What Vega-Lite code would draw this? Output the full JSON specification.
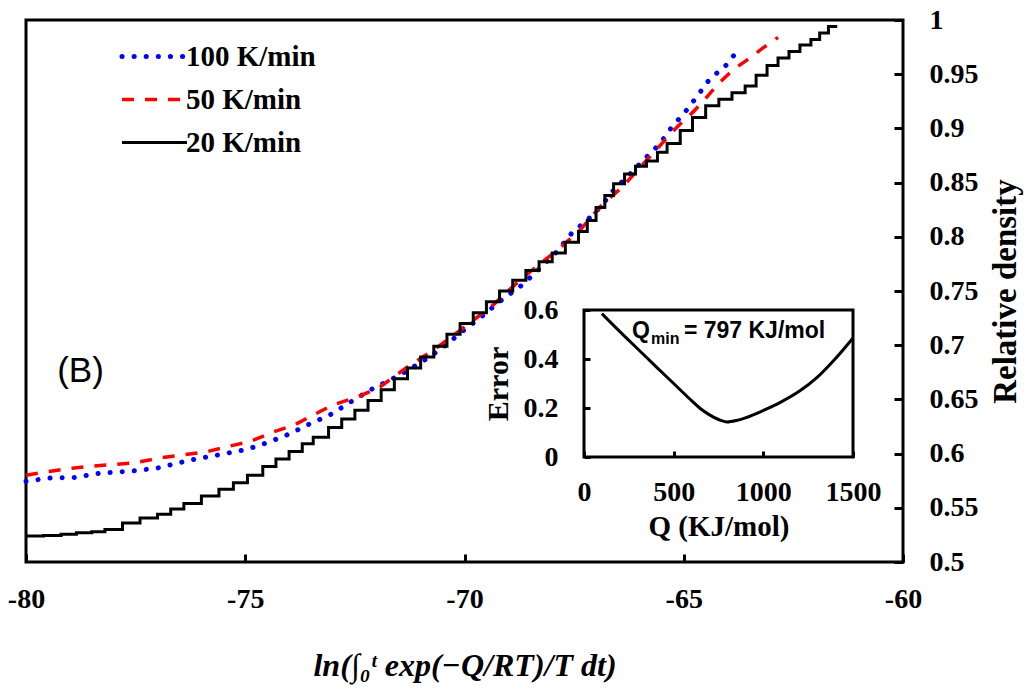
{
  "$schema": "https://vega.github.io/schema/vega-lite/v6.json",
  "width": 877,
  "height": 542,
  "autosize": {"type": "none"},
  "padding": {"left": 26, "top": 20, "right": 125, "bottom": 137},
  "background": "white",
  "config": {
    "view": {"stroke": "black", "strokeWidth": 3},
    "axis": {"grid": false, "labelFont": "Liberation Serif", "labelFontWeight": "bold", "labelColor": "black", "titleFont": "Liberation Serif", "titleFontWeight": "bold", "titleColor": "black", "tickColor": "black", "labelFlush": false, "labelOverlap": false}
  },
  "datasets": {
    "curves": [
      {"s": "100 K/min", "x": -80, "y": 0.5745}, {"s": "100 K/min", "x": -79.45, "y": 0.5775}, {"s": "100 K/min", "x": -78.9, "y": 0.578}, {"s": "100 K/min", "x": -78.3, "y": 0.582}, {"s": "100 K/min", "x": -77.55, "y": 0.584}, {"s": "100 K/min", "x": -77.0, "y": 0.5867}, {"s": "100 K/min", "x": -76.26, "y": 0.594}, {"s": "100 K/min", "x": -75.5, "y": 0.5996}, {"s": "100 K/min", "x": -74.96, "y": 0.604}, {"s": "100 K/min", "x": -74.5, "y": 0.61}, {"s": "100 K/min", "x": -74.0, "y": 0.618}, {"s": "100 K/min", "x": -73.5, "y": 0.628}, {"s": "100 K/min", "x": -73.07, "y": 0.6356}, {"s": "100 K/min", "x": -72.6, "y": 0.6476}, {"s": "100 K/min", "x": -72.15, "y": 0.6587}, {"s": "100 K/min", "x": -71.47, "y": 0.6725}, {"s": "100 K/min", "x": -70.8, "y": 0.689}, {"s": "100 K/min", "x": -70.4, "y": 0.701}, {"s": "100 K/min", "x": -69.95, "y": 0.716}, {"s": "100 K/min", "x": -69.65, "y": 0.725}, {"s": "100 K/min", "x": -69.24, "y": 0.739}, {"s": "100 K/min", "x": -68.67, "y": 0.756}, {"s": "100 K/min", "x": -68.28, "y": 0.771}, {"s": "100 K/min", "x": -67.9, "y": 0.786}, {"s": "100 K/min", "x": -67.55, "y": 0.8035}, {"s": "100 K/min", "x": -67.2, "y": 0.8155}, {"s": "100 K/min", "x": -66.9, "y": 0.8275}, {"s": "100 K/min", "x": -66.6, "y": 0.843}, {"s": "100 K/min", "x": -66.2, "y": 0.859}, {"s": "100 K/min", "x": -65.84, "y": 0.874}, {"s": "100 K/min", "x": -65.54, "y": 0.886}, {"s": "100 K/min", "x": -65.27, "y": 0.9014}, {"s": "100 K/min", "x": -64.97, "y": 0.915}, {"s": "100 K/min", "x": -64.67, "y": 0.931}, {"s": "100 K/min", "x": -64.4, "y": 0.946}, {"s": "100 K/min", "x": -64.06, "y": 0.957}, {"s": "100 K/min", "x": -63.9, "y": 0.965}, {"s": "100 K/min", "x": -63.76, "y": 0.973},
      {"s": "50 K/min", "x": -80, "y": 0.58}, {"s": "50 K/min", "x": -79.4, "y": 0.584}, {"s": "50 K/min", "x": -78.85, "y": 0.587}, {"s": "50 K/min", "x": -78.15, "y": 0.5895}, {"s": "50 K/min", "x": -77.55, "y": 0.5913}, {"s": "50 K/min", "x": -76.94, "y": 0.596}, {"s": "50 K/min", "x": -76.4, "y": 0.599}, {"s": "50 K/min", "x": -75.9, "y": 0.6015}, {"s": "50 K/min", "x": -75.35, "y": 0.607}, {"s": "50 K/min", "x": -74.9, "y": 0.611}, {"s": "50 K/min", "x": -74.36, "y": 0.62}, {"s": "50 K/min", "x": -73.9, "y": 0.626}, {"s": "50 K/min", "x": -73.45, "y": 0.6356}, {"s": "50 K/min", "x": -73.0, "y": 0.645}, {"s": "50 K/min", "x": -72.45, "y": 0.652}, {"s": "50 K/min", "x": -71.93, "y": 0.6614}, {"s": "50 K/min", "x": -71.3, "y": 0.68}, {"s": "50 K/min", "x": -70.7, "y": 0.6956}, {"s": "50 K/min", "x": -69.94, "y": 0.7186}, {"s": "50 K/min", "x": -69.35, "y": 0.737}, {"s": "50 K/min", "x": -68.9, "y": 0.754}, {"s": "50 K/min", "x": -68.35, "y": 0.773}, {"s": "50 K/min", "x": -67.9, "y": 0.787}, {"s": "50 K/min", "x": -67.37, "y": 0.806}, {"s": "50 K/min", "x": -66.9, "y": 0.828}, {"s": "50 K/min", "x": -66.4, "y": 0.846}, {"s": "50 K/min", "x": -65.77, "y": 0.874}, {"s": "50 K/min", "x": -65.15, "y": 0.9014}, {"s": "50 K/min", "x": -64.79, "y": 0.915}, {"s": "50 K/min", "x": -64.47, "y": 0.929}, {"s": "50 K/min", "x": -64.24, "y": 0.94}, {"s": "50 K/min", "x": -63.88, "y": 0.954}, {"s": "50 K/min", "x": -63.56, "y": 0.963}, {"s": "50 K/min", "x": -63.2, "y": 0.974}, {"s": "50 K/min", "x": -62.85, "y": 0.984},
      {"s": "20 K/min", "x": -80, "y": 0.524}, {"s": "20 K/min", "x": -79.6, "y": 0.5245}, {"s": "20 K/min", "x": -79.2, "y": 0.5255}, {"s": "20 K/min", "x": -78.85, "y": 0.527}, {"s": "20 K/min", "x": -78.5, "y": 0.528}, {"s": "20 K/min", "x": -78.2, "y": 0.53}, {"s": "20 K/min", "x": -77.8, "y": 0.536}, {"s": "20 K/min", "x": -77.4, "y": 0.5405}, {"s": "20 K/min", "x": -77.0, "y": 0.544}, {"s": "20 K/min", "x": -76.7, "y": 0.549}, {"s": "20 K/min", "x": -76.4, "y": 0.554}, {"s": "20 K/min", "x": -76.0, "y": 0.561}, {"s": "20 K/min", "x": -75.6, "y": 0.567}, {"s": "20 K/min", "x": -75.27, "y": 0.573}, {"s": "20 K/min", "x": -74.95, "y": 0.58}, {"s": "20 K/min", "x": -74.6, "y": 0.588}, {"s": "20 K/min", "x": -74.3, "y": 0.595}, {"s": "20 K/min", "x": -74.0, "y": 0.602}, {"s": "20 K/min", "x": -73.7, "y": 0.609}, {"s": "20 K/min", "x": -73.45, "y": 0.615}, {"s": "20 K/min", "x": -73.1, "y": 0.624}, {"s": "20 K/min", "x": -72.8, "y": 0.632}, {"s": "20 K/min", "x": -72.5, "y": 0.64}, {"s": "20 K/min", "x": -72.2, "y": 0.649}, {"s": "20 K/min", "x": -71.9, "y": 0.659}, {"s": "20 K/min", "x": -71.6, "y": 0.669}, {"s": "20 K/min", "x": -71.3, "y": 0.679}, {"s": "20 K/min", "x": -71.0, "y": 0.689}, {"s": "20 K/min", "x": -70.7, "y": 0.699}, {"s": "20 K/min", "x": -70.4, "y": 0.71}, {"s": "20 K/min", "x": -70.1, "y": 0.72}, {"s": "20 K/min", "x": -69.8, "y": 0.73}, {"s": "20 K/min", "x": -69.5, "y": 0.74}, {"s": "20 K/min", "x": -69.2, "y": 0.75}, {"s": "20 K/min", "x": -68.9, "y": 0.76}, {"s": "20 K/min", "x": -68.6, "y": 0.769}, {"s": "20 K/min", "x": -68.3, "y": 0.777}, {"s": "20 K/min", "x": -68.0, "y": 0.785}, {"s": "20 K/min", "x": -67.7, "y": 0.795}, {"s": "20 K/min", "x": -67.4, "y": 0.805}, {"s": "20 K/min", "x": -67.2, "y": 0.815}, {"s": "20 K/min", "x": -67.0, "y": 0.827}, {"s": "20 K/min", "x": -66.8, "y": 0.838}, {"s": "20 K/min", "x": -66.6, "y": 0.849}, {"s": "20 K/min", "x": -66.35, "y": 0.858}, {"s": "20 K/min", "x": -66.1, "y": 0.865}, {"s": "20 K/min", "x": -65.85, "y": 0.87}, {"s": "20 K/min", "x": -65.6, "y": 0.878}, {"s": "20 K/min", "x": -65.38, "y": 0.886}, {"s": "20 K/min", "x": -65.08, "y": 0.898}, {"s": "20 K/min", "x": -64.8, "y": 0.91}, {"s": "20 K/min", "x": -64.5, "y": 0.921}, {"s": "20 K/min", "x": -64.2, "y": 0.927}, {"s": "20 K/min", "x": -63.9, "y": 0.933}, {"s": "20 K/min", "x": -63.6, "y": 0.939}, {"s": "20 K/min", "x": -63.35, "y": 0.949}, {"s": "20 K/min", "x": -63.1, "y": 0.958}, {"s": "20 K/min", "x": -62.85, "y": 0.965}, {"s": "20 K/min", "x": -62.6, "y": 0.971}, {"s": "20 K/min", "x": -62.35, "y": 0.977}, {"s": "20 K/min", "x": -62.1, "y": 0.982}, {"s": "20 K/min", "x": -61.9, "y": 0.988}, {"s": "20 K/min", "x": -61.7, "y": 0.994}, {"s": "20 K/min", "x": -61.5, "y": 0.994}
    ],
    "err": [
      {"q": 100, "e": 0.585}, {"q": 200, "e": 0.512}, {"q": 300, "e": 0.441}, {"q": 400, "e": 0.37}, {"q": 500, "e": 0.3}, {"q": 600, "e": 0.23}, {"q": 650, "e": 0.197}, {"q": 700, "e": 0.172}, {"q": 750, "e": 0.153}, {"q": 797, "e": 0.143}, {"q": 850, "e": 0.149}, {"q": 900, "e": 0.16}, {"q": 1000, "e": 0.19}, {"q": 1100, "e": 0.225}, {"q": 1200, "e": 0.268}, {"q": 1300, "e": 0.325}, {"q": 1400, "e": 0.4}, {"q": 1500, "e": 0.486}
    ]
  },
  "layer": [
    {
      "data": {"name": "curves"},
      "layer": [
        {
          "transform": [{"filter": "datum.s === '100 K/min'"}],
          "mark": {"type": "line", "strokeWidth": 5, "strokeCap": "round"},
          "encoding": {
            "x": {"field": "x", "type": "quantitative", "scale": {"domain": [-80, -60], "nice": false, "zero": false},
              "axis": {"orient": "bottom", "values": [-80, -75, -70, -65, -60], "domain": false, "tickSize": -8, "tickWidth": 3, "labelPadding": 31, "labelFontSize": 28, "labelExpr": "'' + datum.value", "title": "ln(∫₀ᵗ exp(−Q/RT)/T dt)", "titleFontStyle": "italic", "titleFontSize": 32, "titleY": 88, "titleBaseline": "top"}},
            "y": {"field": "y", "type": "quantitative", "scale": {"domain": [0.5, 1], "nice": false, "zero": false},
              "axis": {"orient": "right", "values": [0.5, 0.55, 0.6, 0.65, 0.7, 0.75, 0.8, 0.85, 0.9, 0.95, 1], "domain": false, "tickSize": -9, "tickWidth": 3, "labelPadding": 35, "labelAlign": "left", "labelBaseline": "middle", "labelFontSize": 28, "labelExpr": "'' + datum.value", "title": "Relative density", "titleFontSize": 33, "titleAngle": -90, "titleX": 102, "titleY": 271, "titleAlign": "center", "titleBaseline": "middle"}},
            "color": {"field": "s", "type": "nominal", "scale": {"domain": ["100 K/min", "50 K/min", "20 K/min"], "range": ["#0000ff", "#ff0000", "#000000"]},
              "legend": {"orient": "none", "legendX": 114, "legendY": 22, "padding": 0, "title": null, "symbolType": "stroke", "symbolSize": 4225, "labelOffset": 17, "rowPadding": 13, "labelFont": "Liberation Serif", "labelFontWeight": "bold", "labelFontSize": 29, "labelColor": "black", "symbolOpacity": 1,
                "encode": {"symbols": {"update": {"strokeWidth": {"signal": "datum.value === '100 K/min' ? 5 : datum.value === '50 K/min' ? 3.5 : 3"}, "strokeCap": {"signal": "datum.value === '100 K/min' ? 'round' : 'butt'"}}}}}},
            "strokeDash": {"field": "s", "type": "nominal", "scale": {"domain": ["100 K/min", "50 K/min", "20 K/min"], "range": [[0.1, 12], [12, 11], [1, 0]]},
              "legend": {"orient": "none", "legendX": 114, "legendY": 22, "padding": 0, "title": null, "symbolType": "stroke", "symbolSize": 4225, "labelOffset": 17, "rowPadding": 13, "labelFont": "Liberation Serif", "labelFontWeight": "bold", "labelFontSize": 29, "labelColor": "black", "symbolOpacity": 1,
                "encode": {"symbols": {"update": {"strokeWidth": {"signal": "datum.value === '100 K/min' ? 5 : datum.value === '50 K/min' ? 3.5 : 3"}, "strokeCap": {"signal": "datum.value === '100 K/min' ? 'round' : 'butt'"}}}}}}
          }
        },
        {
          "transform": [{"filter": "datum.s === '50 K/min'"}],
          "mark": {"type": "line", "strokeWidth": 3.5},
          "encoding": {
            "x": {"field": "x", "type": "quantitative"},
            "y": {"field": "y", "type": "quantitative"},
            "color": {"field": "s", "type": "nominal"},
            "strokeDash": {"field": "s", "type": "nominal"}
          }
        },
        {
          "transform": [{"filter": "datum.s === '20 K/min'"}],
          "mark": {"type": "line", "strokeWidth": 3, "interpolate": "step-after"},
          "encoding": {
            "x": {"field": "x", "type": "quantitative"},
            "y": {"field": "y", "type": "quantitative"},
            "color": {"field": "s", "type": "nominal"},
            "strokeDash": {"field": "s", "type": "nominal"}
          }
        },
        {
          "data": {"values": [{"label": "(B)"}]},
          "mark": {"type": "text", "font": "Liberation Sans", "fontSize": 35, "align": "left", "baseline": "middle", "color": "black"},
          "encoding": {
            "x": {"datum": -79.29, "type": "quantitative"},
            "y": {"datum": 0.676, "type": "quantitative"},
            "text": {"field": "label"}
          }
        }
      ]
    },
    {
      "data": {"name": "err"},
      "layer": [
        {
          "mark": {"type": "line", "strokeWidth": 3, "color": "black", "interpolate": "monotone"},
          "encoding": {
            "x": {"field": "q", "type": "quantitative", "scale": {"domain": [0, 1500], "range": [558, 827], "nice": false, "zero": false},
              "axis": {"orient": "bottom", "offset": -105, "values": [0, 500, 1000, 1500], "domain": false, "tickSize": -6, "tickWidth": 3, "labelPadding": 27, "labelFontSize": 28, "labelExpr": "'' + datum.value", "title": "Q (KJ/mol)", "titleFontSize": 29, "titleY": 55, "titleBaseline": "top"}},
            "y": {"field": "e", "type": "quantitative", "scale": {"domain": [0, 0.6], "range": [437, 290], "nice": false, "zero": false},
              "axis": {"orient": "left", "offset": -558, "values": [0, 0.2, 0.4, 0.6], "domain": false, "tickSize": -6, "tickWidth": 3, "labelPadding": 32, "labelAlign": "right", "labelBaseline": "middle", "labelFontSize": 28, "labelExpr": "'' + datum.value", "title": "Error", "titleFontSize": 30, "titleAngle": -90, "titleX": -86, "titleY": 363.5, "titleAlign": "center", "titleBaseline": "middle"}}
          }
        },
        {
          "data": {"values": [{"a": 0}]},
          "mark": {"type": "rect", "fill": null, "stroke": "black", "strokeWidth": 3},
          "encoding": {
            "x": {"datum": 0, "type": "quantitative"},
            "x2": {"datum": 1500},
            "y": {"datum": 0, "type": "quantitative"},
            "y2": {"datum": 0.6}
          }
        },
        {
          "data": {"values": [{"t": "Q"}]},
          "mark": {"type": "text", "font": "Liberation Sans", "fontWeight": "bold", "fontSize": 23, "align": "left", "baseline": "alphabetic", "color": "black"},
          "encoding": {"x": {"datum": 268, "type": "quantitative"}, "y": {"datum": 0.4857, "type": "quantitative"}, "text": {"field": "t"}}
        },
        {
          "data": {"values": [{"t": "min"}]},
          "mark": {"type": "text", "font": "Liberation Sans", "fontWeight": "bold", "fontSize": 16, "align": "left", "baseline": "alphabetic", "color": "black"},
          "encoding": {"x": {"datum": 374, "type": "quantitative"}, "y": {"datum": 0.4612, "type": "quantitative"}, "text": {"field": "t"}}
        },
        {
          "data": {"values": [{"t": "= 797 KJ/mol"}]},
          "mark": {"type": "text", "font": "Liberation Sans", "fontWeight": "bold", "fontSize": 23, "align": "left", "baseline": "alphabetic", "color": "black"},
          "encoding": {"x": {"datum": 557, "type": "quantitative"}, "y": {"datum": 0.4857, "type": "quantitative"}, "text": {"field": "t"}}
        }
      ]
    }
  ],
  "resolve": {"scale": {"x": "independent", "y": "independent"}, "axis": {"x": "independent", "y": "independent"}}
}
